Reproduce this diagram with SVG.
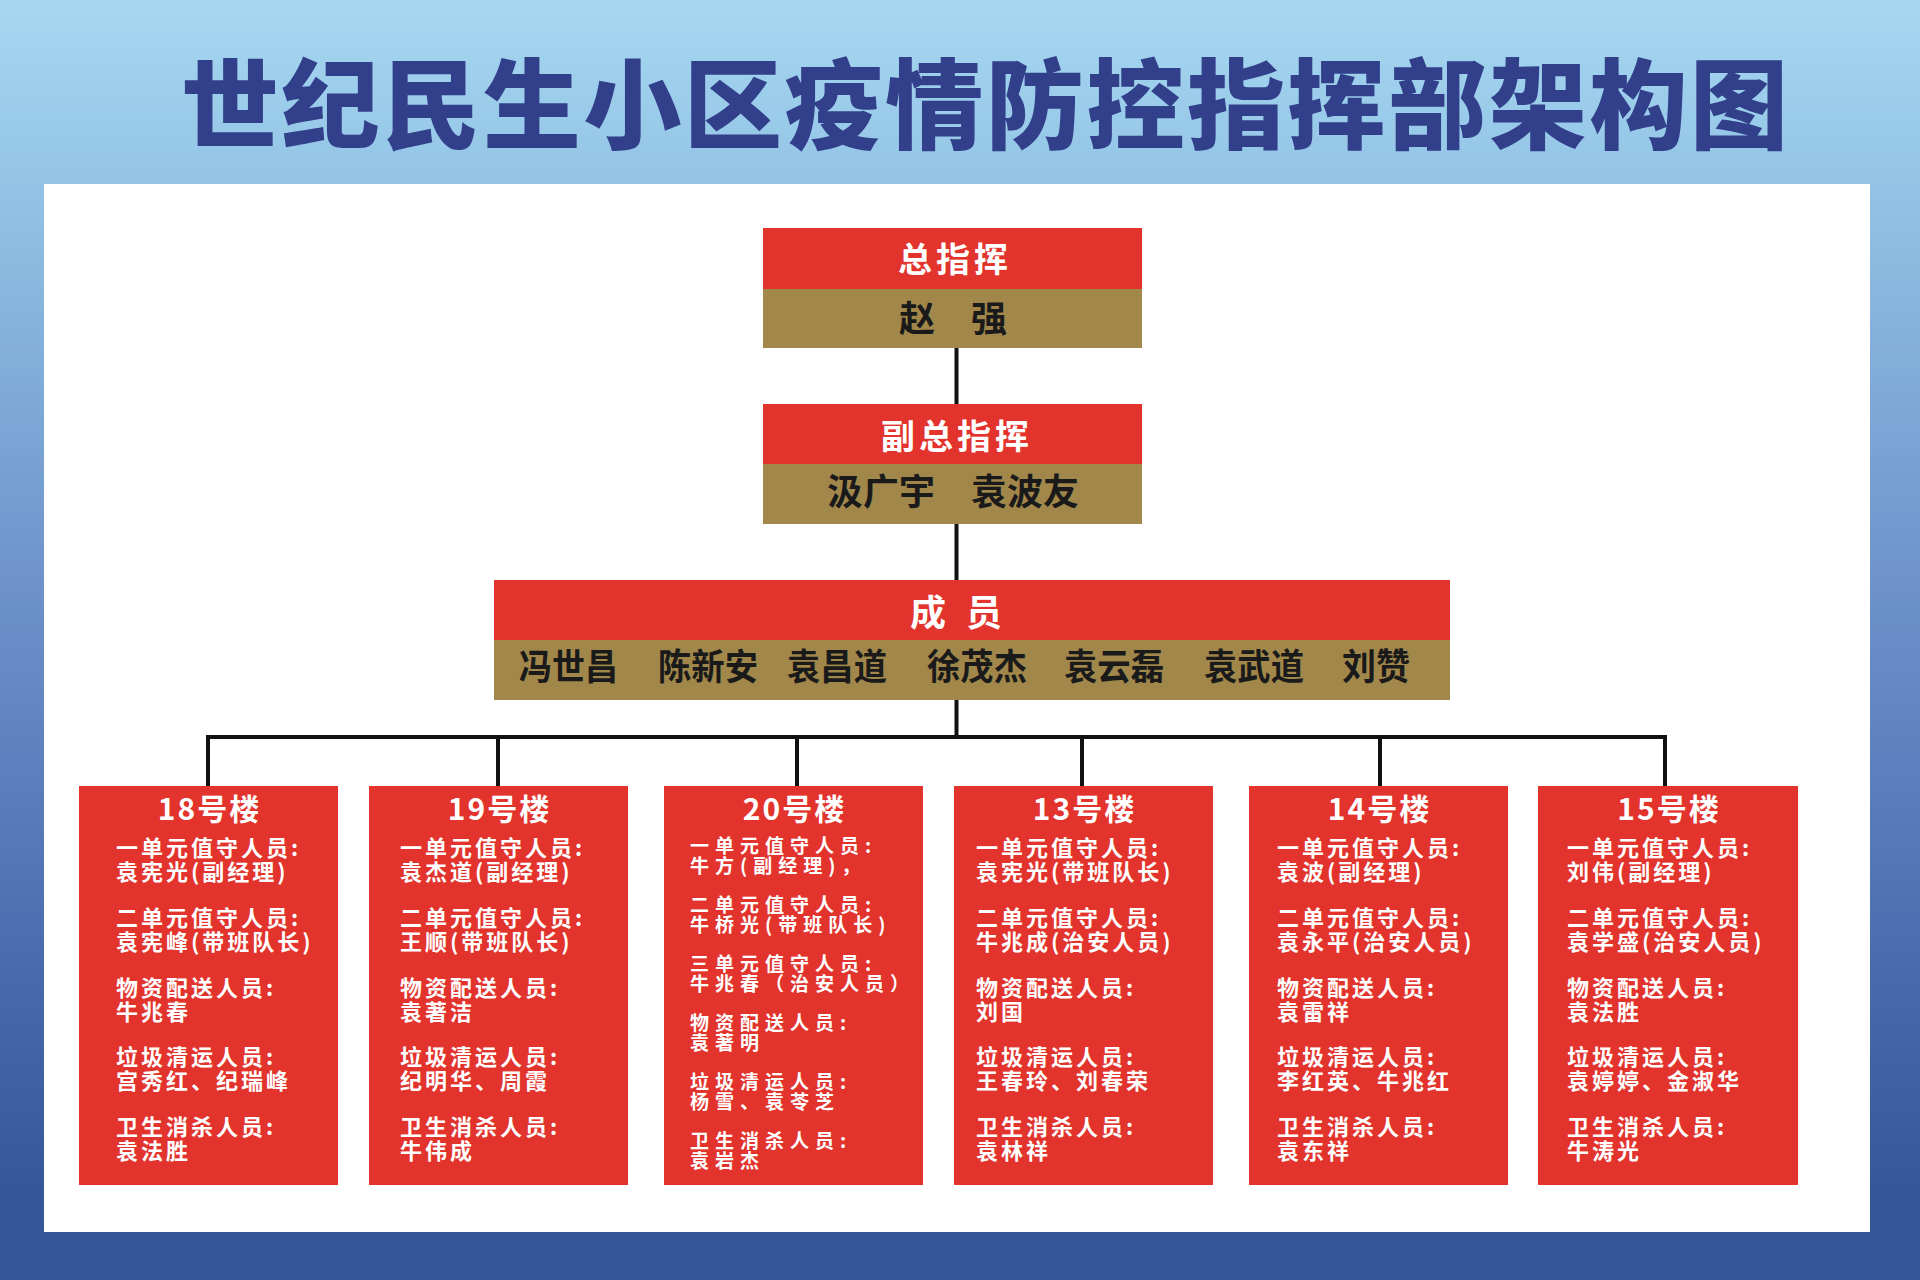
<svg xmlns="http://www.w3.org/2000/svg" width="1920" height="1280" viewBox="0 0 1920 1280">
<defs>
<linearGradient id="bg" x1="0" y1="0" x2="0" y2="1">
<stop offset="0" stop-color="#a6d8f1"/>
<stop offset="0.14" stop-color="#93c4e6"/>
<stop offset="0.45" stop-color="#6e94cb"/>
<stop offset="0.75" stop-color="#4a6caf"/>
<stop offset="0.93" stop-color="#36589a"/>
<stop offset="1" stop-color="#34579a"/>
</linearGradient>
</defs>
<style>
text{font-family:"Noto Sans CJK SC","Noto Sans",sans-serif;font-weight:700}
.title{fill:#323f8a;font-size:98px;font-weight:900}
.red{fill:#e2332d}
.gold{fill:#a2874b}
.hw{fill:#ffffff;font-size:34px;letter-spacing:4px;text-anchor:middle}
.hd{fill:#1a1a1a;font-size:36px;text-anchor:middle}
.nm{fill:#1a1a1a;font-size:36px}
.bt{fill:#ffffff;font-size:30px;letter-spacing:2px;text-anchor:middle}
.b{fill:#ffffff;font-size:22px;letter-spacing:3px}
.b20{fill:#ffffff;font-size:19px;letter-spacing:6px}
.ln{stroke:#111;stroke-width:4;fill:none}
</style>
<rect x="0" y="0" width="1920" height="1280" fill="url(#bg)"/>
<rect x="44" y="184" width="1826" height="1048" fill="#ffffff"/>
<text class="title" x="181" y="141" textLength="1607" lengthAdjust="spacing">世纪民生小区疫情防控指挥部架构图</text>

<g id="connectors">
<path class="ln" d="M956.5 348V404M956.5 524V580M956.5 699V737M206 737H1667M208 737V786M498 737V786M797 737V786M1082 737V786M1380 737V786M1665 737V786"/>
</g>

<g id="chief">
<rect class="red" x="763" y="228" width="379" height="61"/>
<rect class="gold" x="763" y="289" width="379" height="59"/>
<text class="hw" x="955" y="272">总指挥</text>
<text class="hd" x="953" y="332">赵　强</text>
</g>

<g id="deputy">
<rect class="red" x="763" y="404" width="379" height="60"/>
<rect class="gold" x="763" y="464" width="379" height="60"/>
<text class="hw" x="957" y="449">副总指挥</text>
<text class="hd" x="953" y="505">汲广宇　袁波友</text>
</g>

<g id="members">
<rect class="red" x="494" y="580" width="956" height="60"/>
<rect class="gold" x="494" y="640" width="956" height="60"/>
<text class="hw" x="910" y="626" style="text-anchor:start;letter-spacing:20px;font-size:36px">成员</text>
<text class="nm" x="519" y="680" textLength="99" lengthAdjust="spacingAndGlyphs">冯世昌</text>
<text class="nm" x="658" y="680" textLength="100" lengthAdjust="spacingAndGlyphs">陈新安</text>
<text class="nm" x="787" y="680" textLength="100" lengthAdjust="spacingAndGlyphs">袁昌道</text>
<text class="nm" x="927" y="680" textLength="100" lengthAdjust="spacingAndGlyphs">徐茂杰</text>
<text class="nm" x="1064" y="680" textLength="100" lengthAdjust="spacingAndGlyphs">袁云磊</text>
<text class="nm" x="1204" y="680" textLength="100" lengthAdjust="spacingAndGlyphs">袁武道</text>
<text class="nm" x="1342" y="680" textLength="68" lengthAdjust="spacingAndGlyphs">刘赞</text>
</g>

<g id="b18">
<rect class="red" x="79" y="786" width="259" height="399"/>
<text class="bt" x="209.5" y="820">18号楼</text>
<text class="b" x="116" y="856">一单元值守人员:<tspan x="116" dy="24">袁宪光(副经理)</tspan></text>
<text class="b" x="116" y="926">二单元值守人员:<tspan x="116" dy="24">袁宪峰(带班队长)</tspan></text>
<text class="b" x="116" y="996">物资配送人员:<tspan x="116" dy="24">牛兆春</tspan></text>
<text class="b" x="116" y="1065">垃圾清运人员:<tspan x="116" dy="24">宫秀红、纪瑞峰</tspan></text>
<text class="b" x="116" y="1135">卫生消杀人员:<tspan x="116" dy="24">袁法胜</tspan></text>
</g>

<g id="b19">
<rect class="red" x="369" y="786" width="259" height="399"/>
<text class="bt" x="499.5" y="820">19号楼</text>
<text class="b" x="400" y="856">一单元值守人员:<tspan x="400" dy="24">袁杰道(副经理)</tspan></text>
<text class="b" x="400" y="926">二单元值守人员:<tspan x="400" dy="24">王顺(带班队长)</tspan></text>
<text class="b" x="400" y="996">物资配送人员:<tspan x="400" dy="24">袁著洁</tspan></text>
<text class="b" x="400" y="1065">垃圾清运人员:<tspan x="400" dy="24">纪明华、周霞</tspan></text>
<text class="b" x="400" y="1135">卫生消杀人员:<tspan x="400" dy="24">牛伟成</tspan></text>
</g>

<g id="b20">
<rect class="red" x="664" y="786" width="259" height="399"/>
<text class="bt" x="794.5" y="820">20号楼</text>
<text class="b20" x="690" y="853">一单元值守人员:<tspan x="690" dy="20">牛方(副经理)，</tspan></text>
<text class="b20" x="690" y="912">二单元值守人员:<tspan x="690" dy="20">牛桥光(带班队长)</tspan></text>
<text class="b20" x="690" y="971">三单元值守人员:<tspan x="690" dy="20">牛兆春（治安人员）</tspan></text>
<text class="b20" x="690" y="1030">物资配送人员:<tspan x="690" dy="20">袁著明</tspan></text>
<text class="b20" x="690" y="1089">垃圾清运人员:<tspan x="690" dy="20">杨雪、袁苓芝</tspan></text>
<text class="b20" x="690" y="1148">卫生消杀人员:<tspan x="690" dy="20">袁岩杰</tspan></text>
</g>

<g id="b13">
<rect class="red" x="954" y="786" width="259" height="399"/>
<text class="bt" x="1084.5" y="820">13号楼</text>
<text class="b" x="976" y="856">一单元值守人员:<tspan x="976" dy="24">袁宪光(带班队长)</tspan></text>
<text class="b" x="976" y="926">二单元值守人员:<tspan x="976" dy="24">牛兆成(治安人员)</tspan></text>
<text class="b" x="976" y="996">物资配送人员:<tspan x="976" dy="24">刘国</tspan></text>
<text class="b" x="976" y="1065">垃圾清运人员:<tspan x="976" dy="24">王春玲、刘春荣</tspan></text>
<text class="b" x="976" y="1135">卫生消杀人员:<tspan x="976" dy="24">袁林祥</tspan></text>
</g>

<g id="b14">
<rect class="red" x="1249" y="786" width="259" height="399"/>
<text class="bt" x="1379.5" y="820">14号楼</text>
<text class="b" x="1277" y="856">一单元值守人员:<tspan x="1277" dy="24">袁波(副经理)</tspan></text>
<text class="b" x="1277" y="926">二单元值守人员:<tspan x="1277" dy="24">袁永平(治安人员)</tspan></text>
<text class="b" x="1277" y="996">物资配送人员:<tspan x="1277" dy="24">袁雷祥</tspan></text>
<text class="b" x="1277" y="1065">垃圾清运人员:<tspan x="1277" dy="24">李红英、牛兆红</tspan></text>
<text class="b" x="1277" y="1135">卫生消杀人员:<tspan x="1277" dy="24">袁东祥</tspan></text>
</g>

<g id="b15">
<rect class="red" x="1538" y="786" width="260" height="399"/>
<text class="bt" x="1669" y="820">15号楼</text>
<text class="b" x="1567" y="856">一单元值守人员:<tspan x="1567" dy="24">刘伟(副经理)</tspan></text>
<text class="b" x="1567" y="926">二单元值守人员:<tspan x="1567" dy="24">袁学盛(治安人员)</tspan></text>
<text class="b" x="1567" y="996">物资配送人员:<tspan x="1567" dy="24">袁法胜</tspan></text>
<text class="b" x="1567" y="1065">垃圾清运人员:<tspan x="1567" dy="24">袁婷婷、金淑华</tspan></text>
<text class="b" x="1567" y="1135">卫生消杀人员:<tspan x="1567" dy="24">牛涛光</tspan></text>
</g>
</svg>
